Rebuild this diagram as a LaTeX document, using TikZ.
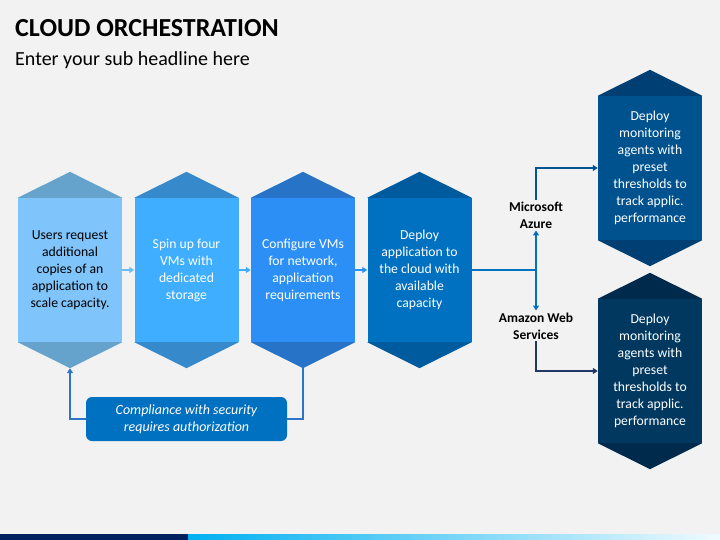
\documentclass[tikz,border=0pt]{standalone}
\usepackage{fontspec}
\setmainfont{Carlito}
\usetikzlibrary{arrows.meta,calc}
\definecolor{bg}{HTML}{F2F2F2}
\definecolor{rA}{HTML}{7FC4FA}\definecolor{cA}{HTML}{65A3CC}
\definecolor{rB}{HTML}{40AEFF}\definecolor{cB}{HTML}{368ACC}
\definecolor{rC}{HTML}{2B8FF5}\definecolor{cC}{HTML}{2673C8}
\definecolor{rD}{HTML}{0070C0}\definecolor{cD}{HTML}{005A9E}
\definecolor{rE}{HTML}{00528F}\definecolor{cE}{HTML}{003F73}
\definecolor{rF}{HTML}{00385F}\definecolor{cF}{HTML}{002A4C}
\definecolor{lnA}{HTML}{6BBDF5}
\definecolor{lnE}{HTML}{005596}
\definecolor{lnF}{HTML}{1F3864}
\definecolor{lnG}{HTML}{2E75C8}
\definecolor{navy}{HTML}{002060}
\definecolor{barA}{HTML}{0070C0}
\definecolor{barB}{HTML}{00B0F0}
\definecolor{barD}{HTML}{5AAEE0}
\pgfdeclarehorizontalshading{barshade}{100bp}{color(0bp)=(barA); color(25bp)=(barB); color(78bp)=(white); color(100bp)=(barD)}
\tikzset{
  hexrect/.style={minimum width=104pt, minimum height=144pt, inner sep=0pt, align=center, font=\fontsize{13.7}{17}\selectfont},
  conn/.style={line width=1.8pt},
  tip/.style={-{Triangle[length=5pt,width=6pt]}},
  lbl/.style={align=center, font=\fontsize{13.5}{17}\selectfont\bfseries, inner sep=2pt},
}
\newcommand\hexbox[7]{%
  \node[hexrect, fill=#4, text=#6] (#1) at (#2,#3) {#7};
  \coordinate (#1-top) at ($(#1.north)+(0,-26)$);
  \coordinate (#1-bot) at ($(#1.south)+(0,26)$);
  \fill[#5] (#1.north west) -- (#1-top) -- (#1.north east) -- cycle;
  \fill[#5] (#1.south west) -- (#1-bot) -- (#1.south east) -- cycle;
}
\begin{document}
\begin{tikzpicture}[x=1pt,y=-1pt]
\fill[bg] (0,0) rectangle (720,540);
\useasboundingbox (0,0) rectangle (720,540);
\node[anchor=west, inner sep=0pt, font=\fontsize{26}{30}\selectfont\bfseries] (title) at (15,28) {CLOUD ORCHESTRATION};
\node[anchor=west, inner sep=0pt, font=\fontsize{20}{24}\selectfont] (sub) at (15,60) {Enter your sub headline here};

\hexbox{h1}{70}{270}{rA}{cA}{black}{Users request\\additional\\copies of an\\application to\\scale capacity.}
\hexbox{h2}{186.5}{270}{rB}{cB}{white}{Spin up four\\VMs with\\dedicated\\storage}
\hexbox{h3}{303}{270}{rC}{cC}{white}{Configure VMs\\for network,\\application\\requirements}
\hexbox{h4}{419.5}{270}{rD}{cD}{white}{Deploy\\application to\\the cloud with\\available\\capacity}
\hexbox{h5}{650}{168}{rE}{cE}{white}{Deploy\\monitoring\\agents with\\preset\\thresholds to\\track applic.\\performance}
\hexbox{h6}{650}{371}{rF}{cF}{white}{Deploy\\monitoring\\agents with\\preset\\thresholds to\\track applic.\\performance}

\draw[conn, tip, lnA] (h1.east) -- (h2.west);
\draw[conn, tip, rB] (h2.east) -- (h3.west);
\draw[conn, tip, rC] (h3.east) -- (h4.west);

\node[lbl] (az) at (536,215) {Microsoft\\Azure};
\node[lbl] (aws) at (536,326) {Amazon Web\\Services};
\coordinate (br) at (536,270);
\draw[conn, rD] (h4.east) -- (br);
\draw[conn, tip, rD] (br) -- (az.south);
\draw[conn, tip, rD] (br) -- (aws.north);
\draw[conn, tip, lnE] (az.north) |- (h5.west);
\draw[conn, tip, lnF] (aws.south) |- (h6.west);

\node[fill=rD, rounded corners=6pt, minimum width=201pt, minimum height=44pt, align=center, text=white, font=\fontsize{14}{17}\selectfont\itshape] (comp) at (186.5,419) {Compliance with security\\requires authorization};
\draw[conn, tip, lnG] (comp.west) -| (h1-bot);
\draw[conn, lnG] (comp.east) -| (h3-bot);

\fill[navy] (0,534) rectangle (188,540);
\shade[shading=barshade] (188,534) rectangle (720,540);
\end{tikzpicture}
\end{document}
